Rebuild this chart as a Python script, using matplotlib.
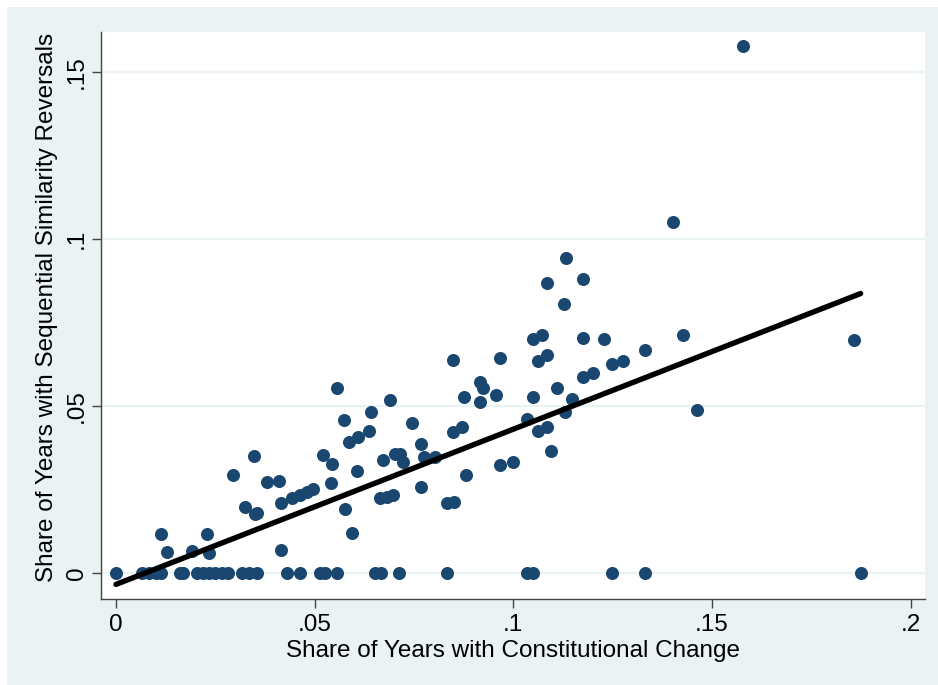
import numpy as np
import matplotlib
matplotlib.use("Agg")
import matplotlib.pyplot as plt
from matplotlib.patches import Rectangle

plt.rcParams['font.family'] = ['Liberation Sans', 'DejaVu Sans']

# ---- data ----
zero_x = [0.0, 0.0066, 0.0083, 0.0100, 0.0113, 0.0161, 0.0169, 0.0203, 0.0219,
          0.0234, 0.0249, 0.0267, 0.0282, 0.0316, 0.0334, 0.0354, 0.0430, 0.0463,
          0.0513, 0.0526, 0.0555, 0.0653, 0.0666, 0.0712, 0.0832, 0.1034, 0.1050,
          0.1249, 0.1332, 0.1874]
zero_y = [0.0] * len(zero_x)

pos_x = [0.0113, 0.0128, 0.0192, 0.0228, 0.0234, 0.0294, 0.0348, 0.0325, 0.0350,
         0.0355, 0.0379, 0.0411, 0.0415, 0.0415, 0.0442, 0.0463, 0.0480, 0.0497,
         0.0520, 0.0555, 0.0690, 0.0643, 0.0575, 0.0587, 0.0610, 0.0637, 0.0746,
         0.0543, 0.0540, 0.0606, 0.0673, 0.0702, 0.0715, 0.0723, 0.0767, 0.0774,
         0.0803, 0.0767, 0.0664, 0.0681, 0.0698, 0.0576, 0.0595, 0.0849, 0.0870,
         0.0876, 0.0832, 0.0851, 0.0881, 0.0916, 0.0923, 0.0916, 0.0956, 0.0849,
         0.0966, 0.0966, 0.1000, 0.1132, 0.1176, 0.1085, 0.1128, 0.1050, 0.1071,
         0.1176, 0.1227, 0.1427, 0.1063, 0.1085, 0.1332, 0.1249, 0.1275, 0.1176,
         0.1200, 0.1110, 0.1050, 0.1148, 0.1130, 0.1462, 0.1034, 0.1063, 0.1085,
         0.1096, 0.1579, 0.1402, 0.1858]
pos_y = [0.0116, 0.0063, 0.0066, 0.0116, 0.0058, 0.0292, 0.0350, 0.0196, 0.0176,
         0.0179, 0.0271, 0.0275, 0.0208, 0.0068, 0.0223, 0.0233, 0.0243, 0.0251,
         0.0352, 0.0555, 0.0518, 0.0483, 0.0458, 0.0393, 0.0408, 0.0425, 0.0448,
         0.0326, 0.0270, 0.0305, 0.0338, 0.0355, 0.0356, 0.0333, 0.0385, 0.0346,
         0.0346, 0.0256, 0.0223, 0.0228, 0.0233, 0.0192, 0.0120, 0.0423, 0.0436,
         0.0526, 0.0208, 0.0213, 0.0293, 0.0573, 0.0555, 0.0511, 0.0533, 0.0638,
         0.0643, 0.0323, 0.0333, 0.0944, 0.0882, 0.0868, 0.0805, 0.0701, 0.0713,
         0.0704, 0.0701, 0.0713, 0.0636, 0.0653, 0.0668, 0.0626, 0.0636, 0.0588,
         0.0600, 0.0555, 0.0528, 0.0520, 0.0483, 0.0488, 0.0461, 0.0425, 0.0436,
         0.0366, 0.1579, 0.1052, 0.0698]

# fitted line (start and end)
fit_x = [0.0, 0.1874]
fit_y = [-0.0035, 0.0837]

x_ticks = [0, 0.05, 0.1, 0.15, 0.2]
x_tick_labels = ['0', '.05', '.1', '.15', '.2']
y_ticks = [0, 0.05, 0.1, 0.15]
y_tick_labels = ['0', '.05', '.1', '.15']

x_label = 'Share of Years with Constitutional Change'
y_label = 'Share of Years with Sequential Similarity Reversals'

# ---- figure ----
W, H = 938, 685
fig = plt.figure(figsize=(W / 100, H / 100), dpi=100)
fig.patch.set_facecolor('white')
bg = Rectangle((7 / W, 0), 1 - 7 / W, 1 - 7 / H,
               transform=fig.transFigure, facecolor='#EAF2F3',
               edgecolor='none', zorder=-10)
fig.add_artist(bg)

L, R, T, B = 101, 925, 32, 599
ax = fig.add_axes([L / W, 1 - B / H, (R - L) / W, (B - T) / H])
ax.set_zorder(1)
ax.set_facecolor('white')

all_x = np.array(zero_x + pos_x)
all_y = np.array(zero_y + pos_y)

ax.scatter(all_x, all_y, s=88, color='#1A476F', linewidths=0, zorder=3)

ax.plot(fit_x, fit_y, color='black', linewidth=3.9,
        solid_capstyle='round', zorder=4)

ax.set_xlim(-0.00377, 0.2036)
ax.set_ylim(-0.00788, 0.1621)

FS = 17.5
ax.set_xticks(x_ticks)
ax.set_xticklabels(x_tick_labels)
ax.set_yticks(y_ticks)
ax.set_yticklabels(y_tick_labels, rotation=90, va='center')

ax.tick_params(axis='both', labelsize=FS, color='#444444', length=6.5,
               width=1.0, labelcolor='black')
ax.tick_params(axis='x', pad=4)
ax.tick_params(axis='y', pad=3)

ax.grid(axis='y', color='#EAF2F3', linewidth=1.6, zorder=0)
ax.set_axisbelow(True)

for s in ['top', 'right']:
    ax.spines[s].set_visible(False)
for s in ['left', 'bottom']:
    ax.spines[s].set_color('#444444')
    ax.spines[s].set_linewidth(1.0)

ax.set_xlabel(x_label, fontsize=FS)
ax.xaxis.set_label_coords(0.5, -(651 - B) / (B - T))
ax.xaxis.label.set_va('center')
ax.set_ylabel(y_label, fontsize=FS)
ax.yaxis.set_label_coords(-(L - 47) / (R - L), 0.515)
ax.yaxis.label.set_va('center')

fig.savefig('out.png', dpi=100, facecolor=fig.get_facecolor())
